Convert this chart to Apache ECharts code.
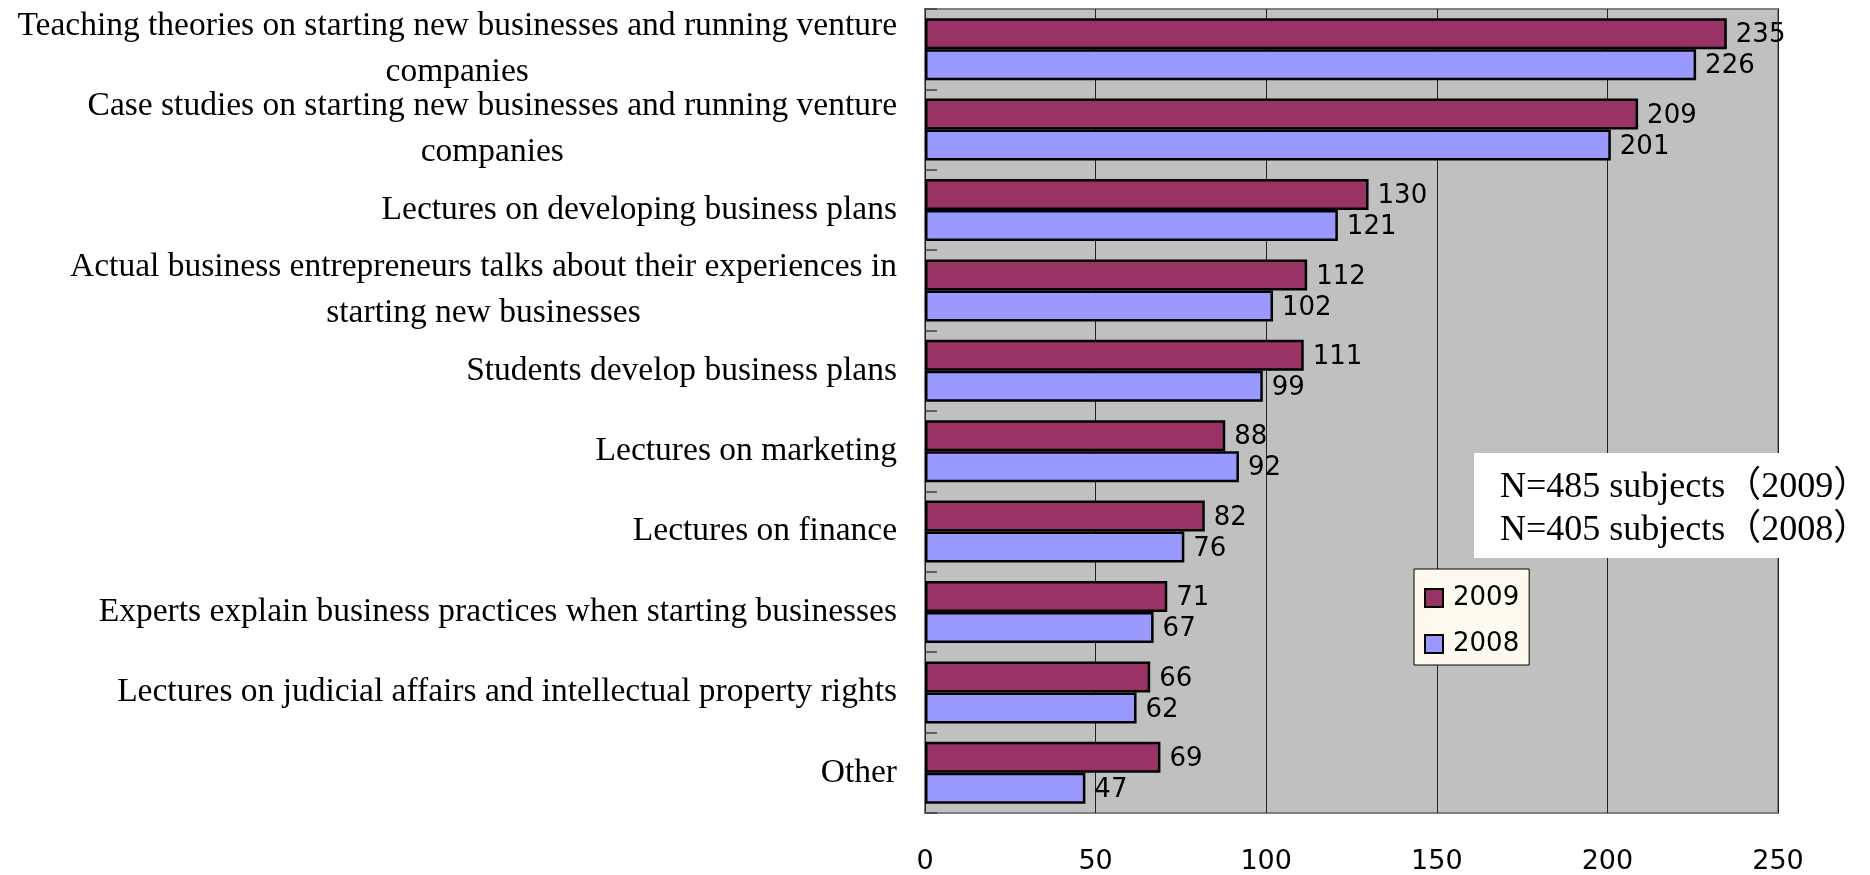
<!DOCTYPE html>
<html>
<head>
<meta charset="utf-8">
<script src="https://cdn.jsdelivr.net/npm/echarts@6/dist/echarts.min.js"></script>
<style>
  html, body { margin: 0; padding: 0; background: #ffffff; }
  #chart { width: 1870px; height: 875px; }
</style>
</head>
<body>
<div id="chart"></div>
<script>
// Course content categories (top to bottom)
const categories = [
  'Teaching theories on starting new businesses and running venture\ncompanies',
  'Case studies on starting new businesses and running venture\ncompanies',
  'Lectures on developing business plans',
  'Actual business entrepreneurs talks about their experiences in\nstarting new businesses',
  'Students develop business plans',
  'Lectures on marketing',
  'Lectures on finance',
  'Experts explain business practices when starting businesses',
  'Lectures on judicial affairs and intellectual property rights',
  'Other'
];
const seriesNames = ['2009', '2008'];
const values2009 = [235, 209, 130, 112, 111, 88, 82, 71, 66, 69];
const values2008 = [226, 201, 121, 102, 99, 92, 76, 67, 62, 47];
const xTicks = [0, 50, 100, 150, 200, 250];
const noteLines = ['N=485 subjects（2009）', 'N=405 subjects（2008）'];

const serif = '"Liberation Serif", "Times New Roman", "Noto Sans CJK JP", serif';
const sans = '"DejaVu Sans", "Liberation Sans", sans-serif';

const chart = echarts.init(document.getElementById('chart'), null, { renderer: 'canvas' });

function barSeries(name, data, color) {
  return {
    name: name,
    type: 'bar',
    data: data,
    barWidth: 31,
    barGap: '0%',
    itemStyle: { color: color, borderColor: '#000000', borderWidth: 2.5 },
    label: {
      show: true,
      position: 'right',
      distance: 9,
      offset: [0, 2],
      color: '#000000',
      fontFamily: sans,
      fontSize: 26
    },
    emphasis: { disabled: true },
    animation: false
  };
}

chart.setOption({
  animation: false,
  grid: {
    left: 925, top: 9, right: 92, bottom: 59,
    show: true,
    backgroundColor: '#C0C0C0',
    borderColor: '#808080',
    borderWidth: 2
  },
  xAxis: {
    type: 'value',
    min: xTicks[0],
    max: xTicks[xTicks.length - 1],
    interval: 50,
    axisLine: { show: false },
    axisTick: { show: false },
    splitLine: { show: true, lineStyle: { color: '#222222', width: 1 } },
    axisLabel: {
      margin: 35,
      color: '#000000',
      fontFamily: sans,
      fontSize: 27
    }
  },
  yAxis: {
    type: 'category',
    data: categories,
    inverse: true,
    axisLine: { show: false },
    axisTick: { show: true, inside: true, length: 12, lineStyle: { color: '#404040', width: 1.5 } },
    splitLine: { show: false },
    axisLabel: {
      margin: 28,
      interval: 0,
      color: '#000000',
      fontFamily: serif,
      fontSize: 33.5,
      lineHeight: 46,
      formatter: function (v) {
        return v.split('\n').map(function (l) { return '{c|' + l + '}'; }).join('\n');
      },
      rich: {
        c: { align: 'center', fontFamily: serif, fontSize: 33.5, lineHeight: 46, color: '#000000' }
      }
    }
  },
  legend: {
    orient: 'vertical',
    left: 1414,
    top: 569,
    data: seriesNames,
    icon: 'rect',
    itemWidth: 18,
    itemHeight: 18,
    itemGap: 20,
    padding: [16, 10, 8, 10],
    backgroundColor: '#FFFAF0',
    borderColor: '#000000',
    borderWidth: 1,
    itemStyle: { borderColor: '#000000', borderWidth: 2 },
    textStyle: { color: '#000000', fontFamily: sans, fontSize: 26, padding: [0, 0, 0, 5] },
    selectedMode: false
  },
  graphic: [
    {
      type: 'rect',
      z: 100,
      shape: { x: 1474, y: 453, width: 400, height: 105 },
      style: { fill: '#ffffff' },
      silent: true
    },
    {
      type: 'text',
      z: 101,
      x: 1500,
      y: 466,
      style: {
        text: noteLines.join('\n'),
        font: '36px ' + serif,
        lineHeight: 43,
        fill: '#000000',
        textAlign: 'left',
        textVerticalAlign: 'top'
      },
      silent: true
    }
  ],
  series: [
    barSeries(seriesNames[0], values2009, '#993366'),
    barSeries(seriesNames[1], values2008, '#9999FF')
  ]
});
</script>
</body>
</html>
